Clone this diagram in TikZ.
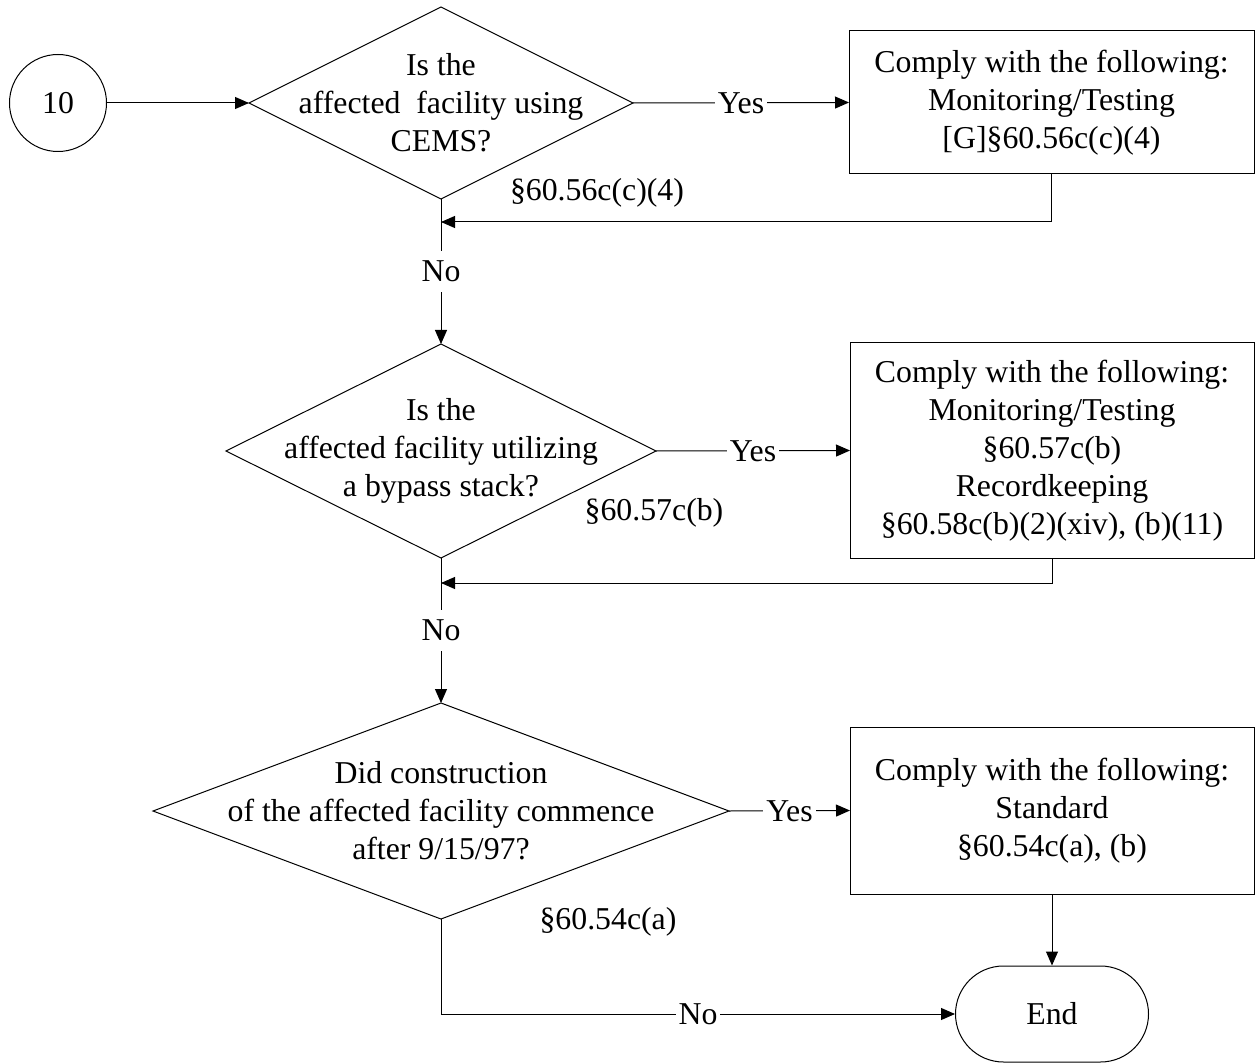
\documentclass[tikz,border=0pt]{standalone}
\usepackage{fontspec}
\setmainfont{Liberation Serif}
\usetikzlibrary{shapes.geometric,arrows.meta}
\begin{document}
\begin{tikzpicture}[x=1pt,y=-1pt,
 every node/.style={font=\fontsize{31.8}{38}\selectfont},
 dia/.style={shape=diamond,draw,line width=1pt,inner sep=0pt,outer sep=0pt},
 box/.style={draw,line width=1pt,rectangle,align=center,inner sep=0pt,outer sep=0pt},
 txt/.style={align=center,inner sep=0pt},
 lab/.style={fill=white,inner xsep=3pt,inner ysep=3pt},
 vlab/.style={fill=white,inner xsep=3pt,inner ysep=10pt},
 conn/.style={line width=1pt,-{Triangle[length=14pt,width=12pt]}},
]
\useasboundingbox (0,0) rectangle (1255,1064);

% start connector
\node[draw,circle,line width=1pt,minimum size=97pt,inner sep=0pt] (c10) at (58,103) {10};

% decision 1
\node[dia,minimum width=384pt,minimum height=192pt] (q1) at (441,103) {};
\node[txt] (q1t) at (441,103) {Is the\\affected\ \ facility using\\CEMS?};
\node[box,minimum width=405pt,minimum height=143pt] (b1) at (1051.5,102.5)
  {Comply with the following:\\Monitoring/Testing\\{[G]}§60.56c(c)(4)};
\node (l1) at (597,193) {§60.56c(c)(4)};
\coordinate (j1) at (441,222);

% decision 2
\node[dia,minimum width=430pt,minimum height=214pt] (q2) at (441,451) {};
\node[txt] (q2t) at (441,451) {Is the\\affected facility utilizing\\a bypass stack?};
\node[box,minimum width=404pt,minimum height=215pt] (b2) at (1052,450.5)
  {Comply with the following:\\Monitoring/Testing\\§60.57c(b)\\Recordkeeping\\§60.58c(b)(2)(xiv), (b)(11)};
\node (l2) at (654,513) {§60.57c(b)};
\coordinate (j2) at (441,583);

% decision 3
\node[dia,minimum width=576pt,minimum height=216pt] (q3) at (441,811) {};
\node[txt] (q3t) at (441,811) {Did construction\\of the affected facility commence\\after 9/15/97?};
\node[box,minimum width=404pt,minimum height=167pt] (b3) at (1052,810.5)
  {Comply with the following:\\Standard\\§60.54c(a), (b)};
\node (l3) at (608,922) {§60.54c(a)};

% terminator
\node[draw,line width=1pt,rounded corners=48pt,minimum width=193pt,minimum height=96pt,inner sep=0pt] (end) at (1052,1014) {End};

% connectors
\draw[conn] (c10.east) -- (q1.west);
\draw[conn] (q1.east) -- node[lab]{Yes} (b1.west);
\draw[conn] (b1.south) |- (j1);
\draw[conn] (q1.south) -- node[vlab]{No} (q2.north);

\draw[conn] (q2.east) -- node[lab]{Yes} (b2.west);
\draw[conn] (b2.south) |- (j2);
\draw[conn] (q2.south) -- node[vlab]{No} (q3.north);

\draw[conn] (q3.east) -- node[lab]{Yes} (b3.west);
\draw[conn] (b3.south) -- (end.north);
\draw[conn] (q3.south) |- node[lab,pos=0.75]{No} (end.west);
\end{tikzpicture}
\end{document}
